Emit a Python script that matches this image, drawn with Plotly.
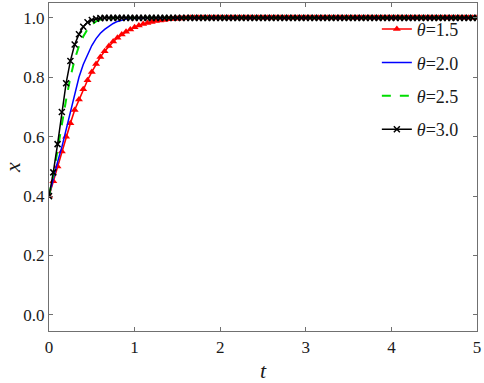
import plotly.graph_objects as go

# time grid (step 0.05 from 0 to 5)
t = [round(0.05 * i, 2) for i in range(101)]

x_theta15 = [0.40, 0.45, 0.50, 0.55, 0.60, 0.645, 0.69, 0.725, 0.76, 0.79,
             0.818, 0.845, 0.868, 0.888, 0.905, 0.92, 0.933, 0.944, 0.953, 0.961,
             0.968, 0.974, 0.979, 0.983, 0.986, 0.989, 0.991, 0.993, 0.995, 0.996,
             0.997, 0.998, 0.999,
             1.0, 1.0, 1.0, 1.0, 1.0, 1.0, 1.0, 1.0, 1.0, 1.0,
             1.0, 1.0, 1.0, 1.0, 1.0, 1.0, 1.0, 1.0, 1.0, 1.0,
             1.0, 1.0, 1.0, 1.0, 1.0, 1.0, 1.0, 1.0, 1.0, 1.0,
             1.0, 1.0, 1.0, 1.0, 1.0, 1.0, 1.0, 1.0, 1.0, 1.0,
             1.0, 1.0, 1.0, 1.0, 1.0, 1.0, 1.0, 1.0, 1.0, 1.0,
             1.0, 1.0, 1.0, 1.0, 1.0, 1.0, 1.0, 1.0, 1.0, 1.0,
             1.0, 1.0, 1.0, 1.0, 1.0, 1.0, 1.0, 1.0]

x_theta20 = [0.40, 0.46, 0.515, 0.565, 0.625, 0.69, 0.748, 0.80, 0.843, 0.878,
             0.907, 0.93, 0.948, 0.961, 0.972, 0.981, 0.988, 0.993, 0.996, 0.998,
             0.999,
             1.0, 1.0, 1.0, 1.0, 1.0, 1.0, 1.0, 1.0, 1.0, 1.0,
             1.0, 1.0, 1.0, 1.0, 1.0, 1.0, 1.0, 1.0, 1.0, 1.0,
             1.0, 1.0, 1.0, 1.0, 1.0, 1.0, 1.0, 1.0, 1.0, 1.0,
             1.0, 1.0, 1.0, 1.0, 1.0, 1.0, 1.0, 1.0, 1.0, 1.0,
             1.0, 1.0, 1.0, 1.0, 1.0, 1.0, 1.0, 1.0, 1.0, 1.0,
             1.0, 1.0, 1.0, 1.0, 1.0, 1.0, 1.0, 1.0, 1.0, 1.0,
             1.0, 1.0, 1.0, 1.0, 1.0, 1.0, 1.0, 1.0, 1.0, 1.0,
             1.0, 1.0, 1.0, 1.0, 1.0, 1.0, 1.0, 1.0, 1.0, 1.0]

x_theta25 = [0.40, 0.47, 0.555, 0.645, 0.725, 0.80, 0.86, 0.905, 0.937, 0.962,
             0.978, 0.988, 0.994, 0.997, 0.999,
             1.0, 1.0, 1.0, 1.0, 1.0, 1.0,
             1.0, 1.0, 1.0, 1.0, 1.0, 1.0, 1.0, 1.0, 1.0, 1.0,
             1.0, 1.0, 1.0, 1.0, 1.0, 1.0, 1.0, 1.0, 1.0, 1.0,
             1.0, 1.0, 1.0, 1.0, 1.0, 1.0, 1.0, 1.0, 1.0, 1.0,
             1.0, 1.0, 1.0, 1.0, 1.0, 1.0, 1.0, 1.0, 1.0, 1.0,
             1.0, 1.0, 1.0, 1.0, 1.0, 1.0, 1.0, 1.0, 1.0, 1.0,
             1.0, 1.0, 1.0, 1.0, 1.0, 1.0, 1.0, 1.0, 1.0, 1.0,
             1.0, 1.0, 1.0, 1.0, 1.0, 1.0, 1.0, 1.0, 1.0, 1.0,
             1.0, 1.0, 1.0, 1.0, 1.0, 1.0, 1.0, 1.0, 1.0, 1.0]

x_theta30 = [0.40, 0.48, 0.575, 0.683, 0.78, 0.855, 0.91, 0.945, 0.97, 0.985,
             0.993, 0.997, 0.999,
             1.0, 1.0, 1.0, 1.0, 1.0, 1.0, 1.0, 1.0,
             1.0, 1.0, 1.0, 1.0, 1.0, 1.0, 1.0, 1.0, 1.0, 1.0,
             1.0, 1.0, 1.0, 1.0, 1.0, 1.0, 1.0, 1.0, 1.0, 1.0,
             1.0, 1.0, 1.0, 1.0, 1.0, 1.0, 1.0, 1.0, 1.0, 1.0,
             1.0, 1.0, 1.0, 1.0, 1.0, 1.0, 1.0, 1.0, 1.0, 1.0,
             1.0, 1.0, 1.0, 1.0, 1.0, 1.0, 1.0, 1.0, 1.0, 1.0,
             1.0, 1.0, 1.0, 1.0, 1.0, 1.0, 1.0, 1.0, 1.0, 1.0,
             1.0, 1.0, 1.0, 1.0, 1.0, 1.0, 1.0, 1.0, 1.0, 1.0,
             1.0, 1.0, 1.0, 1.0, 1.0, 1.0, 1.0, 1.0, 1.0, 1.0]

labels = ["<i>θ</i>=1.5", "<i>θ</i>=2.0", "<i>θ</i>=2.5", "<i>θ</i>=3.0"]
y_ticks = [0.0, 0.2, 0.4, 0.6, 0.8, 1.0]
x_ticks = [0, 1, 2, 3, 4, 5]

n = len(t)
series = [s[:n] for s in [x_theta15, x_theta20, x_theta25, x_theta30]]

FONT = "Liberation Serif"
TXT = "#1a1a1a"

fig = go.Figure()
fig.add_trace(go.Scatter(x=t, y=series[0], name=labels[0], mode="lines+markers",
                         line=dict(color="#ff0000", width=1.6),
                         marker=dict(symbol="triangle-up", size=7, color="#ff0000"),
                         legendgroup="a"))
fig.add_trace(go.Scatter(x=t, y=series[1], name=labels[1], mode="lines",
                         line=dict(color="#0000ff", width=1.5), legendgroup="b"))
fig.add_trace(go.Scatter(x=t, y=series[2], name=labels[2], mode="lines",
                         line=dict(color="#00dd00", width=2, dash="dash"), legendgroup="c"))
fig.add_trace(go.Scatter(x=t, y=series[3], name=labels[3], mode="lines+markers",
                         line=dict(color="#000000", width=1.5),
                         marker=dict(symbol="x-thin", size=6,
                                     line=dict(color="#000000", width=1.5)),
                         legendgroup="d"))

axis_common = dict(showline=True, linecolor="#707070", linewidth=1.2, mirror="ticks",
                   ticks="inside", ticklen=4, tickcolor="#707070", showgrid=False,
                   zeroline=False, automargin=False, ticklabeloverflow="allow",
                   tickfont=dict(family=FONT, size=17, color=TXT))

fig.update_layout(
    width=484, height=383,
    margin=dict(l=49, r=7, t=3, b=52),
    paper_bgcolor="white", plot_bgcolor="white",
    font=dict(family=FONT, color=TXT),
    showlegend=True,
    legend=dict(x=0.766, y=0.976, xanchor="left", yanchor="top",
                bgcolor="rgba(0,0,0,0)", font=dict(family=FONT, size=18, color=TXT),
                tracegroupgap=7, itemwidth=30),
    xaxis=dict(range=[0, 5], tickvals=x_ticks, ticktext=[str(v) for v in x_ticks],
               title=dict(text="<i>t</i>", font=dict(family=FONT, size=22, color=TXT), standoff=10),
               **axis_common),
    yaxis=dict(range=[-0.054, 1.05], tickvals=y_ticks, ticktext=[f"{v:.1f}" for v in y_ticks],
               title=dict(text="<i>x</i>", font=dict(family=FONT, size=22, color=TXT), standoff=8),
               **axis_common),
)

fig.write_html("out.html", config={"displayModeBar": False},
               post_script="document.body.style.margin='0';document.body.style.padding='0';")
